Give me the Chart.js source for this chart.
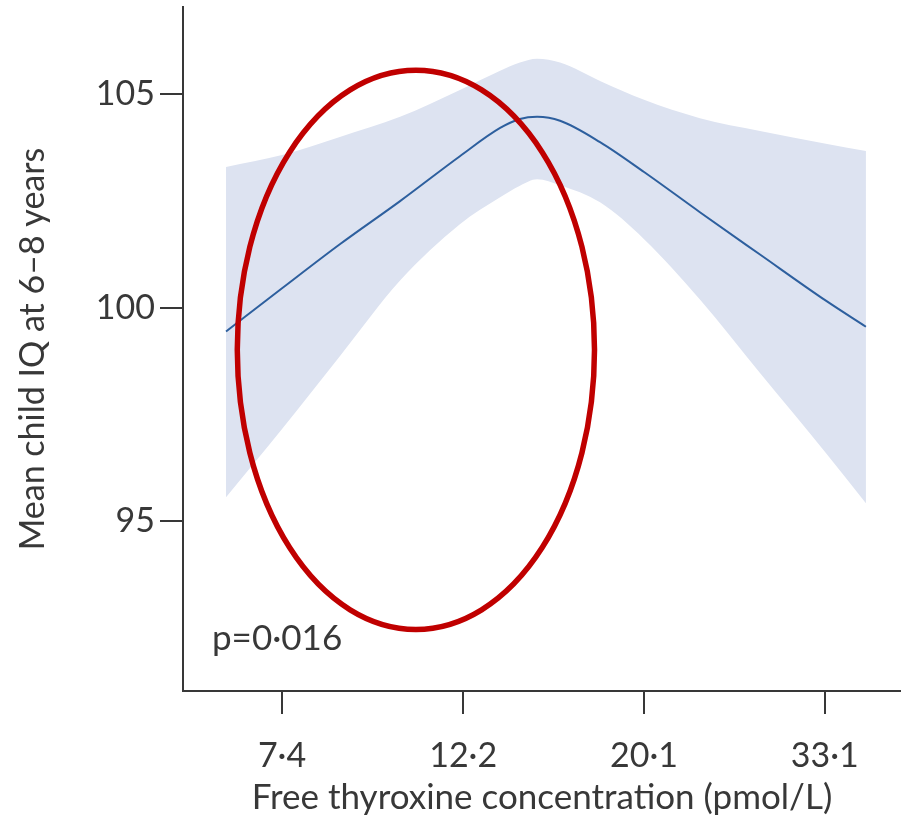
<!DOCTYPE html>
<html>
<head>
<meta charset="utf-8">
<script src="https://cdn.jsdelivr.net/npm/chart.js@4.4.1/dist/chart.umd.min.js"></script>
<style>
  html, body { margin: 0; padding: 0; background: #fff; }
  #wrap { width: 901px; height: 819px; position: relative; }
</style>
</head>
<body>
<div id="wrap"><canvas id="iqChart"></canvas></div>
<script>
// Free thyroxine (pmol/L) sample points along the fitted curve
const ft4 = [6.34, 7.40, 8.68, 10.25, 12.09, 13.51, 14.27, 14.96, 15.94, 17.80, 20.10, 23.45, 27.68, 33.20, 37.08];
// Mean child IQ and 95% CI bounds
const meanIQ = [99.44, 100.45, 101.48, 102.49, 103.54, 104.20, 104.41, 104.46, 104.37, 103.87, 103.17, 102.23, 101.24, 100.16, 99.55];
const upperCI = [103.29, 103.57, 103.99, 104.46, 105.09, 105.54, 105.73, 105.82, 105.73, 105.30, 104.86, 104.43, 104.13, 103.83, 103.66];
const lowerCI = [95.56, 97.16, 98.86, 100.63, 101.95, 102.58, 102.85, 103.00, 102.86, 102.46, 101.60, 100.19, 98.47, 96.60, 95.42];

const xTicks = [7.4, 12.2, 20.1, 33.1];
const yTicks = [95, 100, 105];
const pLabel = 'p=0·016';

const ink = '#383838';
const fontFam = 'Lato, "Liberation Sans", sans-serif';

const pts = arr => arr.map((v, i) => ({ x: ft4[i], y: v }));

// red ellipse annotation, in data units
const ring = { xMin: 6.54, xMax: 17.53, yMin: 92.47, yMax: 105.55 };

const overlay = {
    id: 'overlay',
    afterDatasetsDraw(chart) {
        const { ctx, scales: { x, y }, chartArea } = chart;
        const l = x.getPixelForValue(ring.xMin), r = x.getPixelForValue(ring.xMax);
        const t = y.getPixelForValue(ring.yMax), b = y.getPixelForValue(ring.yMin);
        ctx.save();
        ctx.beginPath();
        ctx.ellipse((l + r) / 2, (t + b) / 2, (r - l) / 2, (b - t) / 2, 0, 0, Math.PI * 2);
        ctx.strokeStyle = '#c00000';
        ctx.lineWidth = 5.5;
        ctx.stroke();

        ctx.fillStyle = ink;
        ctx.font = '35px ' + fontFam;
        ctx.textBaseline = 'alphabetic';
        ctx.textAlign = 'left';
        ctx.fillText(pLabel, chartArea.left + 29, chartArea.bottom - 41);
        ctx.restore();
    }
};

const ctx = document.getElementById('iqChart').getContext('2d');
new Chart(ctx, {
    type: 'line',
    data: {
        datasets: [{
            data: pts(upperCI),
            order: 2,
            borderWidth: 0,
            pointRadius: 0,
            backgroundColor: 'rgb(221,227,241)',
            fill: '+1',
            tension: 0.4,
            cubicInterpolationMode: 'monotone'
        }, {
            data: pts(lowerCI),
            order: 2,
            borderWidth: 0,
            pointRadius: 0,
            fill: false,
            tension: 0.4,
            cubicInterpolationMode: 'monotone'
        }, {
            data: pts(meanIQ),
            order: 1,
            borderColor: '#2d5f9e',
            borderWidth: 2,
            pointRadius: 0,
            fill: false,
            tension: 0.4,
            cubicInterpolationMode: 'monotone'
        }]
    },
    options: {
        responsive: true,
        maintainAspectRatio: false,
        animation: false,
        layout: { padding: { top: 7, right: 0, left: 0, bottom: 0 } },
        plugins: {
            legend: { display: false },
            tooltip: { enabled: false }
        },
        scales: {
            x: {
                type: 'logarithmic',
                min: 5.63,
                max: 40.85,
                afterBuildTicks: s => { s.ticks = xTicks.map(v => ({ value: v })); },
                afterFit: s => { s.height = 128; s.paddingLeft = 0; s.paddingRight = 0; },
                grid: { drawOnChartArea: false, drawTicks: true, tickLength: 23, color: ink, lineWidth: 2 },
                border: { display: true, color: ink, width: 2 },
                ticks: {
                    color: ink,
                    padding: 22,
                    maxRotation: 0,
                    font: { family: fontFam, size: 34 },
                    callback: v => String(v.toFixed(1)).replace('.', '·')
                },
                title: {
                    display: true,
                    text: 'Free thyroxine concentration (pmol/L)',
                    color: ink,
                    font: { family: fontFam, size: 35 },
                    padding: { top: 0, bottom: 0 }
                }
            },
            y: {
                min: 91.03,
                max: 107.03,
                afterBuildTicks: s => { s.ticks = yTicks.map(v => ({ value: v })); },
                afterFit: s => { s.width = 183; s.paddingTop = 0; s.paddingBottom = 0; },
                grid: { drawOnChartArea: false, drawTicks: true, tickLength: 23, color: ink, lineWidth: 2 },
                border: { display: true, color: ink, width: 2 },
                ticks: {
                    color: ink,
                    padding: 5,
                    font: { family: fontFam, size: 34 }
                },
                title: {
                    display: true,
                    text: 'Mean child IQ at 6–8 years',
                    color: ink,
                    font: { family: fontFam, size: 34 },
                    padding: { top: 13, bottom: 0 }
                }
            }
        }
    },
    plugins: [overlay]
});
</script>
</body>
</html>
